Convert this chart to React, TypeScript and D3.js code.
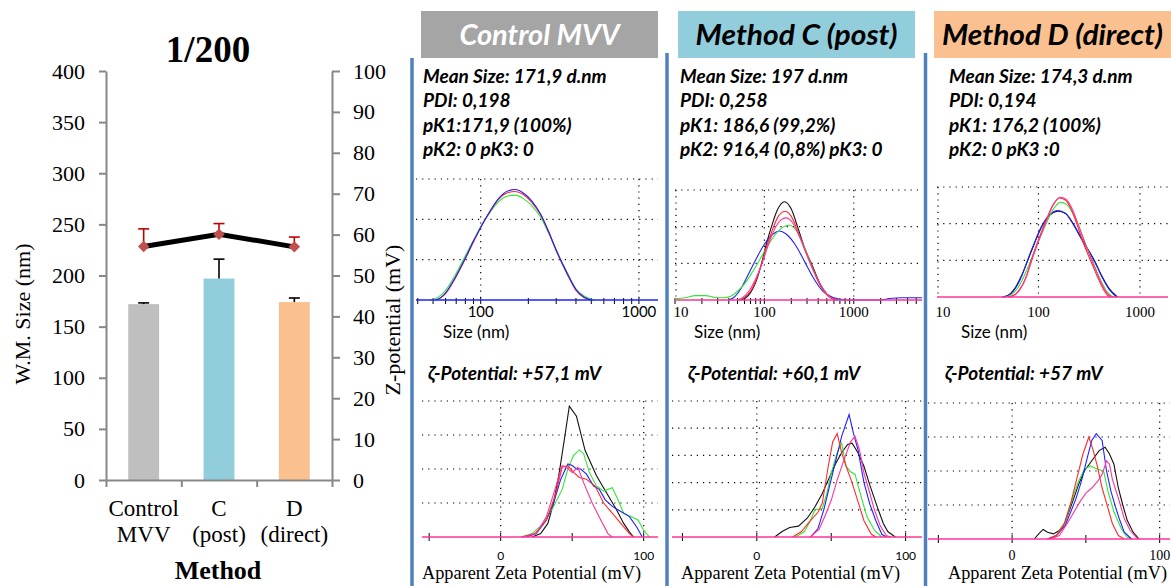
import React, { useRef, useEffect } from 'react';
import * as d3 from 'd3';

// summary chart (left)
const methods = ['Control MVV', 'C (post)', 'D (direct)'];
const methodLabels = [['Control', 'MVV'], ['C', '(post)'], ['D', '(direct)']];
const sizeMean = [172, 197, 174];
const sizeErr = [1.2, 19, 4];
const zetaMean = [57.1, 60.1, 57];
const zetaErr = [4.3, 2.6, 2.4];
const sizeTicks = [0, 50, 100, 150, 200, 250, 300, 350, 400];
const zetaTicks = [0, 10, 20, 30, 40, 50, 60, 70, 80, 90, 100];
const barColors = ['#bfbfbf', '#92cddc', '#fac090'];

// DLS panels (right)
const panelTitles = ['Control MVV', 'Method C (post)', 'Method D (direct)'];
const headerColors = ['#a5a5a5', '#92cddc', '#fac090'];
const headerInk = ['#ffffff', '#000000', '#000000'];
const panelInfo = [
  ['Mean Size: 171,9 d.nm', 'PDI: 0,198', 'pK1:171,9 (100%)', 'pK2: 0 pK3: 0'],
  ['Mean Size: 197 d.nm', 'PDI: 0,258', 'pK1: 186,6 (99,2%)', 'pK2: 916,4 (0,8%) pK3: 0'],
  ['Mean Size: 174,3 d.nm', 'PDI: 0,194', 'pK1: 176,2 (100%)', 'pK2: 0 pK3 :0'],
];
const zetaTitles = ['ζ-Potential: +57,1 mV', 'ζ-Potential: +60,1 mV', 'ζ-Potential: +57 mV'];
const sizeTickLabels = [[100, 1000], [10, 100, 1000], [10, 100, 1000]];
const zetaTickMarks = [-50, 0, 50, 100];
const zetaTickLabels = [0, 100];

// size distributions: [size nm, intensity %]
const ctrlSizeRed = [[52, 0], [56, 0.3], [60, 0.8], [70, 2.9], [80, 5.1], [90, 7.2], [100, 9.0], [115, 11.0], [130, 12.5], [148, 13.3], [165, 13.45], [185, 13.1], [210, 12.1], [240, 10.5], [270, 8.3], [300, 6.1], [350, 3.3], [400, 1.2], [450, 0.3], [500, 0]];
const ctrlSizeGreen = [[48, 0], [52, 0.2], [56, 0.6], [60, 1.2], [70, 3.3], [80, 5.5], [90, 7.4], [100, 9.1], [115, 10.9], [130, 12.2], [148, 12.9], [165, 13.0], [185, 12.6], [210, 11.7], [240, 10.2], [270, 8.2], [300, 6.2], [350, 3.5], [400, 1.4], [450, 0.5], [500, 0.1], [520, 0]];
const ctrlSizeBlue = [[52, 0], [56, 0.3], [60, 0.9], [70, 3.0], [80, 5.2], [90, 7.3], [100, 9.0], [115, 11.1], [130, 12.6], [148, 13.5], [165, 13.7], [185, 13.3], [210, 12.3], [240, 10.6], [270, 8.4], [300, 6.2], [350, 3.4], [400, 1.3], [450, 0.35], [500, 0]];

const postSizeBlack = [[55, 0], [62, 0.3], [70, 1.0], [80, 2.4], [93, 5.0], [105, 7.6], [120, 10.0], [140, 12.3], [168, 13.4], [200, 12.4], [235, 10.0], [280, 7.2], [346, 4.6], [420, 2.2], [500, 0.8], [580, 0.2], [660, 0]];
const postSizeRed = [[52, 0], [60, 0.4], [70, 1.2], [80, 2.6], [93, 4.9], [105, 7.1], [120, 9.2], [140, 11.2], [170, 12.1], [200, 11.4], [235, 9.5], [280, 7.0], [340, 4.5], [420, 2.0], [500, 0.7], [580, 0.15], [650, 0]];
const postSizePink = [[50, 0], [58, 0.4], [68, 1.3], [80, 2.9], [93, 4.8], [105, 6.7], [120, 8.7], [145, 10.6], [175, 11.2], [205, 10.6], [240, 9.0], [285, 6.8], [340, 4.5], [420, 2.1], [500, 0.8], [580, 0.2], [660, 0]];
const postSizeGreen = [[10, 0.15], [13, 0.3], [17, 0.6], [22, 0.6], [28, 0.35], [35, 0.3], [42, 0.5], [50, 1.2], [60, 2.2], [75, 4.0], [100, 6.6], [130, 8.8], [160, 9.9], [190, 10.2], [230, 9.4], [280, 7.2], [340, 4.6], [420, 2.1], [500, 0.7], [600, 0.1], [700, 0]];
const postSizeBlue = [[40, 0], [45, 0.3], [55, 1.6], [65, 3.3], [80, 5.5], [100, 7.6], [125, 9.0], [147, 9.4], [175, 9.0], [220, 7.6], [280, 5.3], [350, 3.1], [450, 1.2], [600, 0.3], [800, 0], [2000, 0], [2500, 0.2], [3500, 0.3], [5000, 0.3], [5800, 0.3]];

const directSizeBlack = [[44, 0], [50, 0.2], [58, 1.1], [68, 2.9], [78, 4.9], [90, 7.1], [107, 9.5], [130, 11.2], [155, 11.7], [185, 11.4], [218, 10.1], [270, 7.8], [358, 4.9], [420, 2.9], [500, 1.1], [600, 0]];
const directSizeBlue = [[45, 0], [52, 0.3], [60, 1.3], [70, 3.2], [78, 5.0], [90, 7.2], [107, 9.6], [130, 11.3], [155, 11.8], [185, 11.4], [218, 10.0], [270, 7.7], [358, 4.8], [420, 2.8], [500, 1.0], [590, 0]];
const directSizeGreen = [[48, 0], [55, 0.4], [63, 1.3], [73, 3.0], [84, 5.0], [100, 7.6], [120, 10.1], [142, 12.1], [165, 12.9], [190, 12.6], [218, 11.4], [250, 9.6], [295, 7.0], [350, 4.5], [410, 2.3], [470, 0.8], [530, 0.1], [570, 0]];
const directSizeRed = [[50, 0], [58, 0.3], [65, 1.0], [75, 2.6], [85, 5.0], [100, 7.8], [120, 10.6], [140, 12.6], [161, 13.5], [185, 13.2], [210, 12.0], [238, 10.0], [280, 7.2], [335, 4.6], [380, 2.8], [430, 1.2], [483, 0.2], [520, 0]];
const directSizePink = [[52, 0], [60, 0.4], [67, 1.2], [76, 2.8], [86, 5.0], [100, 7.6], [120, 10.4], [140, 12.6], [163, 13.6], [188, 13.3], [215, 12.0], [245, 10.0], [290, 7.2], [345, 4.6], [395, 2.6], [445, 1.1], [500, 0.2], [540, 0]];

// zeta distributions: [mV, counts (grid units)]
const ctrlZetaBlack = [[22, 0], [28, 0.1], [33, 0.4], [37, 1.0], [41, 1.9], [45, 3.0], [48, 3.85], [53, 3.55], [59, 2.55], [67, 1.8], [74, 1.3], [81, 0.8], [86, 0.4], [90, 0.15], [93, 0]];
const ctrlZetaGreen = [[14, 0], [22, 0.1], [30, 0.4], [37, 0.9], [43, 1.4], [47, 2.0], [51, 2.4], [55, 2.56], [58, 2.45], [62, 1.9], [67, 1.5], [72, 1.35], [78, 1.45], [82, 1.1], [86, 0.7], [91, 0.6], [96, 0.5], [100, 0.2], [104, 0]];
const ctrlZetaBlue = [[18, 0], [25, 0.1], [32, 0.5], [37, 1.0], [42, 1.7], [47, 2.15], [50, 2.1], [53, 2.0], [56, 2.0], [60, 1.85], [65, 1.5], [69, 1.4], [73, 1.1], [78, 0.9], [84, 0.75], [90, 0.6], [95, 0.3], [99, 0]];
const ctrlZetaRed = [[15, 0], [24, 0.1], [32, 0.5], [38, 1.2], [43, 2.05], [47, 2.1], [51, 1.9], [55, 1.75], [60, 1.7], [66, 1.5], [72, 1.0], [78, 0.7], [84, 0.4], [90, 0.1], [93, 0]];
const ctrlZetaPink = [[15, 0], [25, 0.1], [32, 0.6], [38, 1.4], [43, 2.1], [46, 2.05], [50, 1.9], [54, 2.05], [58, 1.6], [64, 1.0], [70, 0.5], [75, 0.1], [78, 0]];

const postZetaBlack = [[12, 0], [17, 0.2], [22, 0.35], [28, 0.4], [34, 0.7], [39, 1.1], [44, 1.6], [48, 2.1], [53, 2.7], [57, 3.1], [61, 3.4], [64, 3.45], [68, 3.1], [72, 2.6], [76, 1.9], [81, 1.1], [85, 0.5], [88, 0.2], [93, 0]];
const postZetaGreen = [[26, 0], [32, 0.2], [36, 0.6], [39, 1.0], [44, 1.05], [47, 1.6], [50, 2.35], [54, 3.1], [57, 3.45], [60, 2.6], [63, 2.4], [66, 2.3], [70, 1.5], [74, 0.75], [79, 0.25], [84, 0]];
const postZetaBlue = [[36, 0], [41, 0.3], [45, 1.0], [49, 1.9], [53, 2.8], [57, 3.7], [62, 4.5], [65, 3.8], [68, 3.2], [72, 2.0], [76, 1.2], [80, 0.6], [84, 0.1], [87, 0]];
const postZetaRed = [[24, 0], [30, 0.2], [36, 0.6], [41, 0.9], [44, 1.25], [48, 2.6], [51, 3.5], [54, 3.8], [57, 3.1], [60, 2.6], [64, 2.0], [68, 1.3], [72, 0.6], [77, 0.1], [80, 0]];
const postZetaPink = [[36, 0], [42, 0.3], [46, 0.8], [50, 1.35], [54, 2.1], [59, 2.9], [63, 3.5], [66, 3.7], [69, 3.2], [72, 2.35], [76, 1.6], [79, 1.0], [83, 0.4], [87, 0.05], [90, 0]];

const directZetaBlack = [[15, 0], [18, 0.15], [21, 0.28], [24, 0.2], [28, 0.15], [32, 0.25], [36, 0.5], [41, 1.1], [45, 1.6], [49, 2.0], [54, 2.3], [59, 2.6], [63, 2.7], [66, 2.5], [69, 2.2], [72, 1.5], [75, 1.0], [78, 0.55], [82, 0.2], [86, 0]];
const directZetaGreen = [[24, 0], [30, 0.1], [36, 0.5], [41, 1.2], [45, 1.7], [49, 2.05], [53, 2.15], [58, 2.05], [62, 2.0], [65, 1.4], [69, 0.8], [74, 0.3], [78, 0.05], [81, 0]];
const directZetaBlue = [[24, 0], [30, 0.1], [36, 0.4], [43, 1.15], [47, 1.7], [51, 2.4], [54, 2.9], [57, 3.1], [61, 2.9], [64, 2.0], [67, 1.4], [70, 0.95], [73, 0.55], [76, 0.2], [81, 0]];
const directZetaRed = [[24, 0], [30, 0.1], [35, 0.4], [40, 1.1], [44, 1.8], [48, 2.5], [52, 3.0], [55, 2.6], [58, 2.1], [61, 1.5], [65, 0.9], [68, 0.45], [72, 0.1], [76, 0]];
const directZetaPink = [[26, 0], [32, 0.1], [38, 0.5], [42, 0.8], [46, 1.1], [50, 1.35], [54, 1.5], [58, 1.7], [61, 1.9], [64, 2.3], [66, 2.2], [68, 1.75], [72, 1.2], [76, 0.6], [80, 0.25], [85, 0]];

const traceColor = { black: '#111111', red: '#ff2b2b', green: '#33e633', blue: '#2020ff', pink: '#ff3399' };

const sizeSets = [
  [['green', ctrlSizeGreen], ['red', ctrlSizeRed], ['blue', ctrlSizeBlue]],
  [['black', postSizeBlack], ['blue', postSizeBlue], ['green', postSizeGreen], ['red', postSizeRed], ['pink', postSizePink]],
  [['black', directSizeBlack], ['blue', directSizeBlue], ['green', directSizeGreen], ['red', directSizeRed], ['pink', directSizePink]],
];
const zetaSets = [
  [['black', ctrlZetaBlack], ['green', ctrlZetaGreen], ['blue', ctrlZetaBlue], ['red', ctrlZetaRed], ['pink', ctrlZetaPink]],
  [['black', postZetaBlack], ['green', postZetaGreen], ['blue', postZetaBlue], ['red', postZetaRed], ['pink', postZetaPink]],
  [['black', directZetaBlack], ['green', directZetaGreen], ['blue', directZetaBlue], ['red', directZetaRed], ['pink', directZetaPink]],
];

const SERIF = '"Liberation Serif", "Times New Roman", serif';
const SANS = 'Lato, "Open Sans", "DejaVu Sans", sans-serif';
const AXIS = '#878787';
const BLUE_RULE = '#4f81bd';

function drawSummary(svg: any) {
  const g = svg.append('g');
  const x = d3.scaleBand().domain(methods).range([106, 332]).paddingInner(0.59).paddingOuter(0.295);
  const yL = d3.scaleLinear().domain([0, 400]).range([480, 71]);
  const yR = d3.scaleLinear().domain([0, 100]).range([480, 71]);
  const cx = (d: string) => (x(d) as number) + x.bandwidth() / 2;

  // bars
  g.selectAll('rect.bar')
    .data(methods)
    .join('rect')
    .attr('x', (d: string) => x(d))
    .attr('width', x.bandwidth())
    .attr('y', (d: string, i: number) => yL(sizeMean[i]))
    .attr('height', (d: string, i: number) => yL(0) - yL(sizeMean[i]))
    .attr('fill', (d: string, i: number) => barColors[i]);

  // size error bars (up only)
  methods.forEach((m, i) => {
    const top = yL(sizeMean[i] + sizeErr[i]);
    g.append('line').attr('x1', cx(m)).attr('x2', cx(m)).attr('y1', yL(sizeMean[i])).attr('y2', top)
      .attr('stroke', '#000').attr('stroke-width', 1.6);
    g.append('line').attr('x1', cx(m) - 5.5).attr('x2', cx(m) + 5.5).attr('y1', top).attr('y2', top)
      .attr('stroke', '#000').attr('stroke-width', 1.6);
  });

  // axes
  const axL = g.append('g').attr('transform', 'translate(106,0)')
    .call(d3.axisLeft(yL).tickValues(sizeTicks).tickSize(7).tickSizeOuter(0).tickPadding(14));
  const axR = g.append('g').attr('transform', 'translate(332,0)')
    .call(d3.axisRight(yR).tickValues(zetaTicks).tickSize(8).tickSizeOuter(0).tickPadding(13));
  const xLin = d3.scaleLinear().domain([0, methods.length]).range(x.range());
  const axB = g.append('g').attr('transform', 'translate(0,480)')
    .call(d3.axisBottom(xLin).tickValues(d3.range(methods.length + 1)).tickSize(7).tickSizeOuter(0).tickFormat(() => ''));
  [axL, axR, axB].forEach((a: any) => {
    a.select('.domain').attr('stroke', AXIS).attr('stroke-width', 2);
    a.selectAll('.tick line').attr('stroke', AXIS).attr('stroke-width', 2);
    a.selectAll('text').attr('font-family', SERIF).attr('font-size', 22).attr('fill', '#000');
  });

  // zeta line, error bars, markers
  const pts = methods.map((m, i) => [cx(m), yR(zetaMean[i])]);
  methods.forEach((m, i) => {
    const top = yR(zetaMean[i] + zetaErr[i]);
    g.append('line').attr('x1', cx(m)).attr('x2', cx(m)).attr('y1', yR(zetaMean[i])).attr('y2', top)
      .attr('stroke', '#c00000').attr('stroke-width', 1.6);
    g.append('line').attr('x1', cx(m) - 5.5).attr('x2', cx(m) + 5.5).attr('y1', top).attr('y2', top)
      .attr('stroke', '#c00000').attr('stroke-width', 1.6);
  });
  g.append('path').attr('d', d3.line()(pts as any)).attr('fill', 'none').attr('stroke', '#000').attr('stroke-width', 5);
  g.selectAll('path.mk')
    .data(pts)
    .join('path')
    .attr('transform', (d: number[]) => `translate(${d[0]},${d[1]}) rotate(45)`)
    .attr('d', d3.symbol(d3.symbolSquare, 66)())
    .attr('fill', '#c0504d');

  // category labels
  methodLabels.forEach((lines, i) => {
    lines.forEach((s, k) => {
      g.append('text').attr('x', cx(methods[i])).attr('y', 516 + k * 26).attr('text-anchor', 'middle')
        .attr('font-family', SERIF).attr('font-size', 23).text(s);
    });
  });

  g.append('text').attr('x', 218).attr('y', 579).attr('text-anchor', 'middle')
    .attr('font-family', SERIF).attr('font-size', 26).attr('font-weight', 'bold').text('Method');
  g.append('text').attr('x', 208).attr('y', 62).attr('text-anchor', 'middle')
    .attr('font-family', SERIF).attr('font-size', 37).attr('font-weight', 'bold').text('1/200');
  g.append('text').attr('transform', 'translate(30,314) rotate(-90)').attr('text-anchor', 'middle')
    .attr('font-family', SERIF).attr('font-size', 22).text('W.M. Size (nm)');
  g.append('text').attr('transform', 'translate(400,320) rotate(-90)').attr('text-anchor', 'middle')
    .attr('font-family', SERIF).attr('font-size', 22).text('Z-potential (mV)');
}

const dotted = (sel: any) => sel.attr('stroke', '#000').attr('stroke-width', 1.2).attr('stroke-dasharray', '1.2,5');

function drawPanels(svg: any) {
  const g = svg.append('g');
  const headerX = [421, 678, 934];
  const infoX = [423, 680, 949];
  const zetaTitleX = [428, 688, 945];
  const sizeLabelX = [443, 694, 961];
  const zetaLabelX = [422, 681, 948];
  const sizeBox = [
    { x0: 416, x1: 658, top: 179, base: 300, dom: [39, 1320], serif: false, minor: true, edge: false, baseColor: 'blue' },
    { x0: 675, x1: 922, top: 190, base: 300, dom: [10, 5800], serif: true, minor: true, edge: true, baseColor: 'pink' },
    { x0: 937, x1: 1168, top: 187, base: 297, dom: [10, 1890], serif: true, minor: false, edge: true, baseColor: 'pink' },
  ];
  const zetaBox = [
    { x0: 422, x1: 658, top: 401, base: 537, dom: [-55, 110], grid: 4, serif: false },
    { x0: 672, x1: 922, top: 401, base: 537, dom: [-57, 111], grid: 5, serif: false },
    { x0: 928, x1: 1170, top: 403, base: 539, dom: [-57, 107], grid: 4, serif: true },
  ];
  const titleWidth = [160, 202, 221];

  panelTitles.forEach((t, i) => {
    g.append('rect').attr('x', headerX[i]).attr('y', 11).attr('width', 237).attr('height', 47).attr('fill', headerColors[i]);
    g.append('text').attr('x', headerX[i] + 118.5).attr('y', 45).attr('text-anchor', 'middle')
      .attr('font-family', SANS).attr('font-size', 28).attr('font-weight', 'bold').attr('font-style', 'italic')
      .attr('fill', headerInk[i]).attr('textLength', titleWidth[i]).attr('lengthAdjust', 'spacingAndGlyphs').text(t);

    panelInfo[i].forEach((s, k) => {
      g.append('text').attr('x', infoX[i]).attr('y', [83, 107, 132, 156][k])
        .attr('font-family', SANS).attr('font-size', 19).attr('font-weight', 'bold').attr('font-style', 'italic').text(s);
    });

    // size distribution
    const sb = sizeBox[i];
    const xs = d3.scaleLog().domain(sb.dom).range([sb.x0, sb.x1]);
    const ys = d3.scaleLinear().domain([0, 15]).range([sb.base, sb.top]);
    [5, 10, 15].forEach((v) => {
      g.append('line').attr('x1', sb.x0).attr('x2', sb.x1).attr('y1', ys(v)).attr('y2', ys(v)).call(dotted);
    });
    [100, 1000].forEach((v) => {
      g.append('line').attr('x1', xs(v)).attr('x2', xs(v)).attr('y1', sb.top).attr('y2', sb.base).call(dotted);
    });
    if (sb.edge) g.append('line').attr('x1', xs(10) + 1).attr('x2', xs(10) + 1).attr('y1', sb.top).attr('y2', sb.base).call(dotted);
    if (sb.minor) {
      xs.ticks().forEach((v: number) => {
        g.append('line').attr('x1', xs(v)).attr('x2', xs(v)).attr('y1', sb.base - 2).attr('y2', sb.base + 4)
          .attr('stroke', '#000').attr('stroke-width', 1);
      });
    }
    const sizeLine = d3.line().x((d: any) => xs(d[0])).y((d: any) => ys(d[1])).curve(d3.curveMonotoneX);
    sizeSets[i].forEach(([c, data]: any) => {
      g.append('path').attr('d', sizeLine(data)).attr('fill', 'none').attr('stroke', traceColor[c]).attr('stroke-width', 1.1);
    });
    g.append('line').attr('x1', sb.x0).attr('x2', sb.x1).attr('y1', sb.base).attr('y2', sb.base)
      .attr('stroke', traceColor[sb.baseColor]).attr('stroke-width', 1.3);
    sizeTickLabels[i].forEach((v) => {
      g.append('text').attr('x', Math.max(xs(v), sb.x0 + 6)).attr('y', 317).attr('text-anchor', 'middle')
        .attr('font-family', sb.serif ? SERIF : SANS).attr('font-size', 15).text(v);
    });
    g.append('text').attr('x', sizeLabelX[i]).attr('y', 338).attr('font-family', SANS).attr('font-size', 17).text('Size (nm)');

    // zeta distribution
    g.append('text').attr('x', zetaTitleX[i]).attr('y', 380)
      .attr('font-family', SANS).attr('font-size', 19).attr('font-weight', 'bold').attr('font-style', 'italic').text(zetaTitles[i]);
    const zb = zetaBox[i];
    const xz = d3.scaleLinear().domain(zb.dom).range([zb.x0, zb.x1]);
    const yz = d3.scaleLinear().domain([0, zb.grid]).range([zb.base, zb.top]);
    d3.range(1, zb.grid + 1).forEach((v: number) => {
      g.append('line').attr('x1', zb.x0).attr('x2', zb.x1).attr('y1', yz(v)).attr('y2', yz(v)).call(dotted);
    });
    [0, 100].forEach((v) => {
      g.append('line').attr('x1', xz(v)).attr('x2', xz(v)).attr('y1', zb.top).attr('y2', zb.base).call(dotted);
    });
    zetaTickMarks.forEach((v) => {
      g.append('line').attr('x1', xz(v)).attr('x2', xz(v)).attr('y1', zb.base - 4).attr('y2', zb.base + 4)
        .attr('stroke', '#000').attr('stroke-width', 1);
    });
    const zLine = d3.line().x((d: any) => xz(d[0])).y((d: any) => yz(d[1]));
    zetaSets[i].forEach(([c, data]: any) => {
      g.append('path').attr('d', zLine(data)).attr('fill', 'none').attr('stroke', traceColor[c]).attr('stroke-width', 1.1);
    });
    g.append('line').attr('x1', zb.x0).attr('x2', zb.x1).attr('y1', zb.base).attr('y2', zb.base)
      .attr('stroke', traceColor.pink).attr('stroke-width', 1.3);
    zetaTickLabels.forEach((v) => {
      g.append('text').attr('x', xz(v)).attr('y', 560).attr('text-anchor', 'middle')
        .attr('font-family', zb.serif ? SERIF : SANS).attr('font-size', zb.serif ? 14 : 12).text(v);
    });
    g.append('text').attr('x', zetaLabelX[i]).attr('y', 579).attr('font-family', SERIF).attr('font-size', 18)
      .attr('textLength', 219).attr('lengthAdjust', 'spacingAndGlyphs').text('Apparent Zeta Potential (mV)');
  });

  // blue separators between panels
  [[412, 58], [667, 53], [925.5, 53]].forEach(([x, y0]) => {
    g.append('line').attr('x1', x).attr('x2', x).attr('y1', y0).attr('y2', 586).attr('stroke', BLUE_RULE).attr('stroke-width', 3.5);
  });
}

function App() {
  const svgRef = useRef<SVGSVGElement>(null);

  useEffect(() => {
    const svg = d3.select(svgRef.current);
    svg.selectAll('*').remove();
    svg.append('rect').attr('width', 1171).attr('height', 586).attr('fill', '#fff');
    drawSummary(svg);
    drawPanels(svg);
  }, []);

  return (
    <svg
      ref={svgRef}
      width={1171}
      height={586}
      style={{ position: 'absolute', left: 0, top: 0, display: 'block' }}
    ></svg>
  );
}

export default App;
